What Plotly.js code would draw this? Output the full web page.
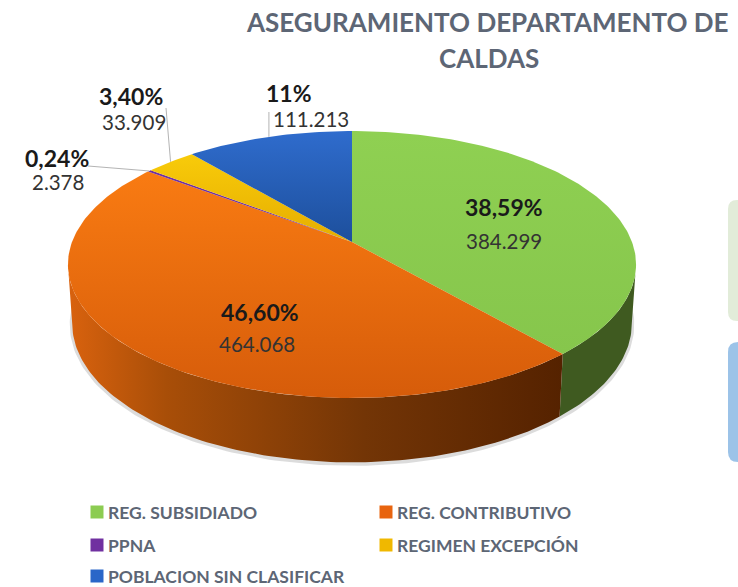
<!DOCTYPE html>
<html><head><meta charset="utf-8">
<script src="https://cdn.plot.ly/plotly-3.0.1.min.js"></script>
<style>html,body{margin:0;padding:0;background:#fff}#c{width:738px;height:587px}</style>
</head><body><div id="c"></div>
<script>
// ---- data ----
const categories = ['REG. SUBSIDIADO','REG. CONTRIBUTIVO','PPNA','REGIMEN EXCEPCIÓN','POBLACION SIN CLASIFICAR'];
const values = [384299,464068,2378,33909,111213];
const pctLabels = ['38,59%','46,60%','0,24%','3,40%','11%'];
const valueLabels = ['384.299','464.068','2.378','33.909','111.213'];
const titleLines = ['ASEGURAMIENTO DEPARTAMENTO DE','CALDAS'];

// ---- styles and positions ----
const topColors = [['#8fd052','#86c64c'],['#f97b12','#d65c0a'],['#7030a0','#7030a0'],['#f8cb0a','#e6ad00'],['#2f6ccd','#1d4f9c']];
const swatch = ['#8ccc52','#e8640f','#7030a0','#f0b800','#2a66c8'];
const cx=352, cy=242, A=280, a=129.7, b=-0.1685;           // projection of the pie disc
const wall = {sx:0.985, sy:1.04, y0:264, dy:59};           // how the rim maps to the lower edge
const labelPos = [[504,207,504,241],[260,312,257,344],[57,158,58,182],[131,96,134,122],[289,93,311,119]];
const leaderEnds = [null,null,[88,166],[166,108],null];
const legendPos = [[97,512],[386,512],[97,545],[386,545],[97,576]];

function proj(deg){ const t=deg*Math.PI/180, u=Math.sin(t), v=-Math.cos(t), d=1+b*v;
  return [cx+A*u/d, cy+a*v/d]; }
function low(p){ return [cx+(p[0]-cx)*wall.sx, wall.y0+wall.dy+(p[1]-wall.y0)*wall.sy]; }
function arc(d0,d1){ const r=[]; const n=Math.max(2,Math.ceil(Math.abs(d1-d0)/1)); for(let i=0;i<=n;i++) r.push(proj(d0+(d1-d0)*i/n)); return r; }

const total = values.reduce((s,v)=>s+v,0);
let acc=0; const spans = values.map(v=>{const s=[acc/total*360,(acc+v)/total*360]; acc+=v; return s;});
const traces=[];

function poly(pts,extra){ return Object.assign({type:'scatter',mode:'lines',x:pts.map(p=>p[0]),y:pts.map(p=>p[1]),
  fill:'toself',line:{width:0},hoverinfo:'skip',showlegend:false},extra); }

// side wall
const frontA=99.7, frontB=260.3;
const shadow = arc(frontA-8,frontB+8).map(low);
traces.push({type:'scatter',mode:'lines',x:shadow.map(p=>p[0]),y:shadow.map(p=>p[1]+1),line:{width:5,color:'rgba(60,60,60,0.18)'},hoverinfo:'skip',showlegend:false});
function wallPoly(d0,d1){ const r=arc(d0,d1); return r.concat(r.slice().reverse().map(low)); }
traces.push(poly(wallPoly(frontA,spans[0][1]),{fillcolor:'#3f5a20'}));
traces.push(poly(wallPoly(spans[0][1],frontB),{fillcolor:'#8a3a06',
  fillgradient:{type:'horizontal',colorscale:[[0,'#d9620e'],[0.2,'#a84e08'],[0.6,'#733506'],[1,'#552200']]}}));

// top surface
values.forEach((v,i)=>{
  const pts=[[cx,cy]].concat(arc(spans[i][0],spans[i][1]));pts.push([cx,cy]);
  traces.push(poly(pts,{fillcolor:topColors[i][0],name:categories[i],
    fillgradient:{type:'vertical',colorscale:[[0,topColors[i][1]],[1,topColors[i][0]]]}}));
});

// leader lines
[2,3,4].forEach(i=>{
  const m=proj((spans[i][0]+spans[i][1])/2);
  const e=leaderEnds[i]||[m[0],112];
  traces.push({type:'scatter',mode:'lines',x:[e[0],m[0]],y:[e[1],m[1]],line:{width:1,color:'#b4b4b4'},hoverinfo:'skip',showlegend:false});
});

// legend squares
traces.push({type:'scatter',mode:'markers',x:legendPos.map(p=>p[0]),y:legendPos.map(p=>p[1]),
  marker:{symbol:'square',size:13,color:swatch},hoverinfo:'skip',showlegend:false});

const ann=[];
function txt(x,y,text,size,color,bold,anchor){ ann.push({xref:'x',yref:'y',x:x,y:y,text:bold?'<b>'+text+'</b>':text,showarrow:false,
  xanchor:anchor||'center',yanchor:'middle',font:{family:'Lato, "Open Sans", sans-serif',size:size,color:color}}); }
titleLines.forEach((t,i)=>txt([487,489][i],[22,58][i],t,26,'#5d6675',true));
values.forEach((v,i)=>{ const p=labelPos[i];
  txt(p[0],p[1],pctLabels[i],23,'#1a1a1a',true);
  txt(p[2],p[3],valueLabels[i],20.5,'#333333',false);
});
categories.forEach((c,i)=>txt(legendPos[i][0]+9,legendPos[i][1],c,17.5,'#5d6675',true,'left'));

function rr(x0,y0,x1,y1,r){ return `M${x0+r},${y0} H${x1} V${y1} H${x0+r} Q${x0},${y1} ${x0},${y1-r} V${y0+r} Q${x0},${y0} ${x0+r},${y0} Z`; }
const shapes=[
 {type:'path',xref:'x',yref:'y',path:rr(728,200,738,321,9),fillcolor:'#e2ecd9',line:{width:0},layer:'below'},
 {type:'path',xref:'x',yref:'y',path:rr(728,342,738,462,10),fillcolor:'#9cc3e8',line:{width:0},layer:'below'}
];

Plotly.newPlot('c',traces,{width:738,height:587,margin:{l:0,r:0,t:0,b:0},paper_bgcolor:'#fff',plot_bgcolor:'#fff',showlegend:false,
  xaxis:{range:[0,738],visible:false,fixedrange:true},yaxis:{range:[587,0],visible:false,fixedrange:true},
  annotations:ann,shapes:shapes,hovermode:false},{displayModeBar:false,staticPlot:true});
</script></body></html>
